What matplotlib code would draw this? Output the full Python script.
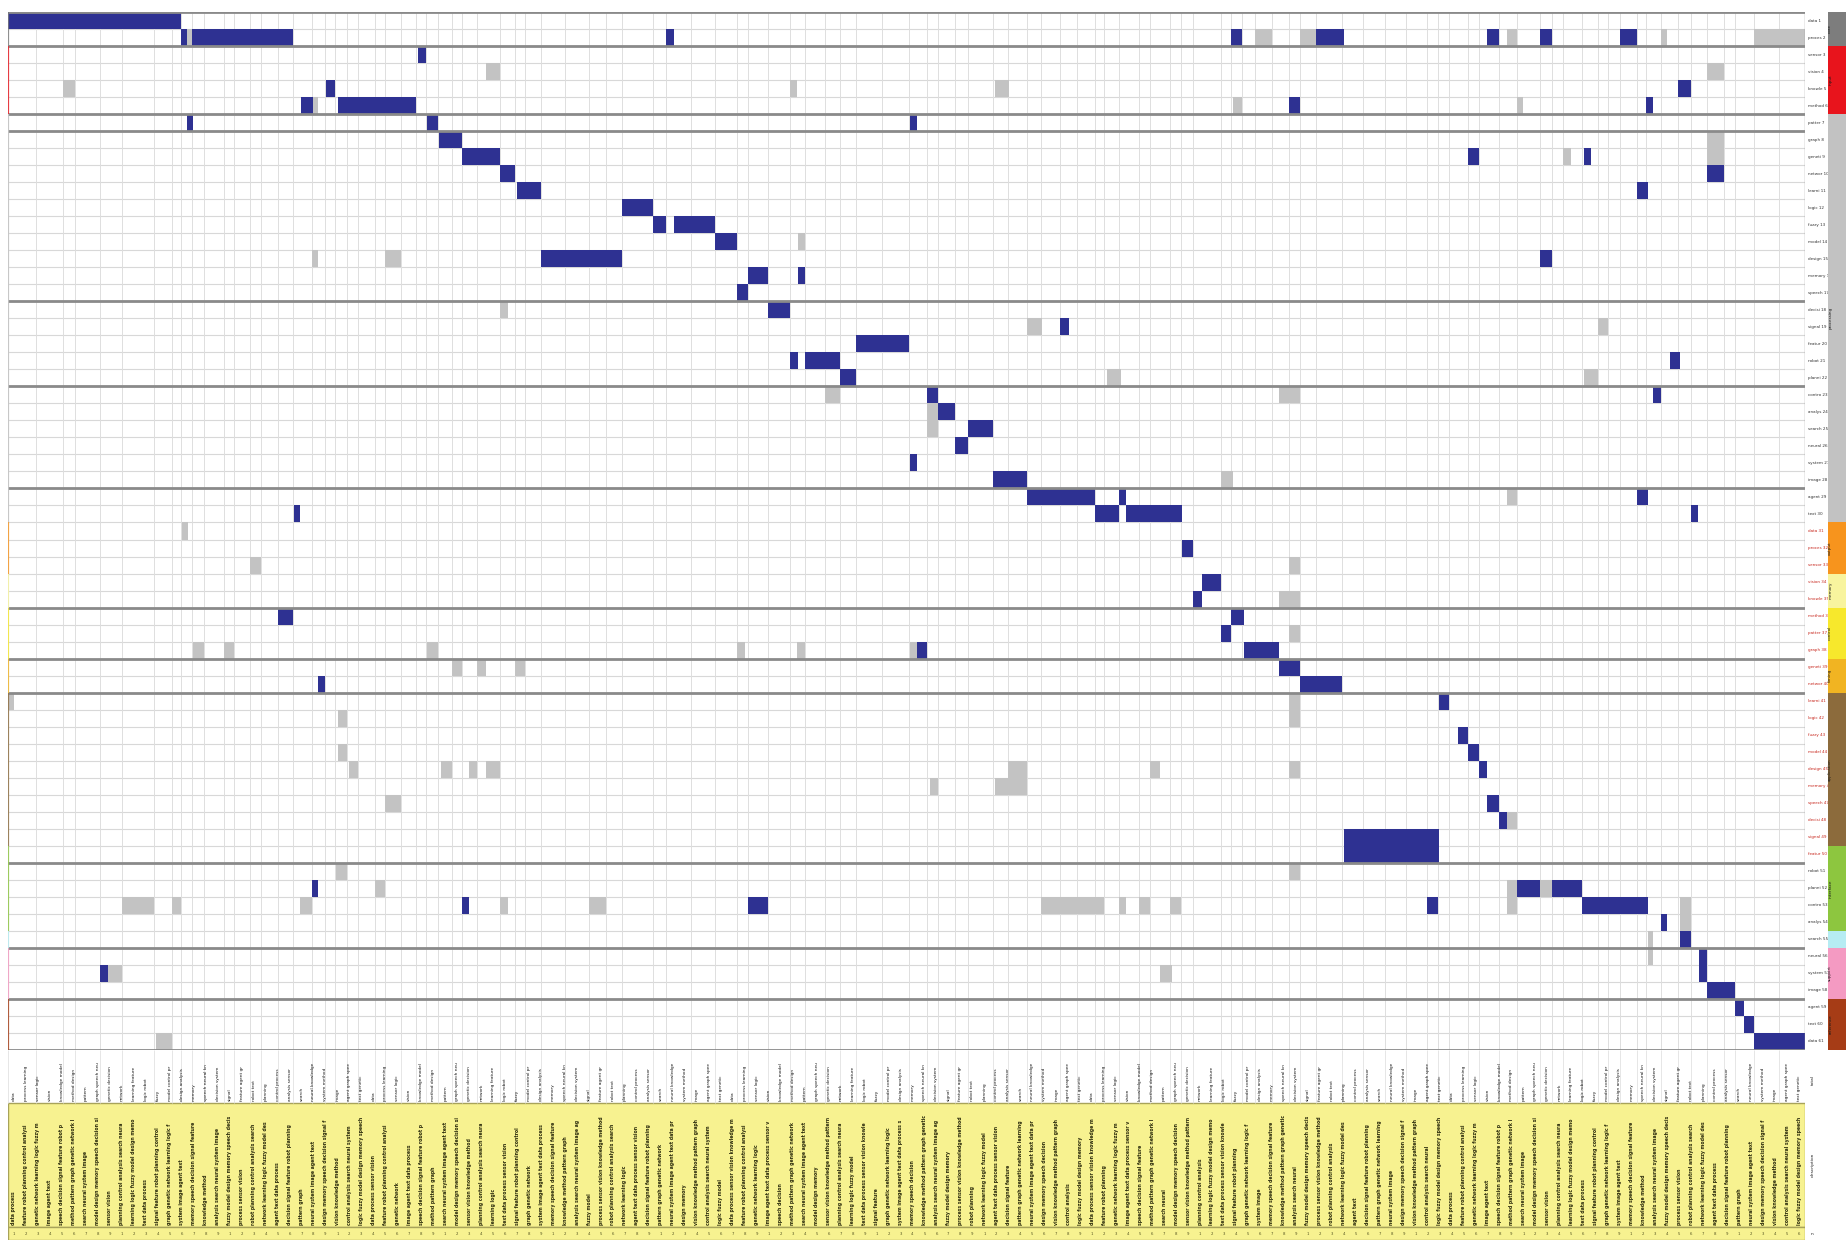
import matplotlib
matplotlib.use('Agg')
import matplotlib.pyplot as plt
from matplotlib.patches import Rectangle

W, H = 1846, 1240
N_ROWS = 61
N_UNITS = 250

# (row, start, stop) in column units
BLUE_CELLS = [
    (0, 0.0, 24.1),
    (1, 24.1, 24.9), (1, 25.6, 39.6), (1, 91.6, 92.6), (1, 170.2, 171.7), (1, 182.0, 185.8),
    (1, 205.8, 207.4), (1, 213.1, 214.8), (1, 224.3, 226.6),
    (2, 57.0, 58.2),
    (4, 44.2, 45.5), (4, 232.4, 234.1),
    (5, 40.8, 42.4), (5, 45.9, 56.8), (5, 178.2, 179.7), (5, 227.9, 228.9),
    (6, 24.9, 25.7), (6, 58.3, 59.8), (6, 125.5, 126.5),
    (7, 60.0, 63.1),
    (8, 63.2, 68.5), (8, 203.1, 204.6), (8, 219.2, 220.2),
    (9, 68.5, 70.6), (9, 236.4, 238.7),
    (10, 70.8, 74.2), (10, 226.6, 228.2),
    (11, 85.4, 89.8),
    (12, 89.8, 91.6), (12, 92.6, 98.3),
    (13, 98.3, 101.4),
    (14, 74.2, 85.4), (14, 213.1, 214.8),
    (15, 103.0, 105.7), (15, 109.9, 110.9),
    (16, 101.4, 103.0),
    (17, 105.8, 108.8),
    (18, 146.3, 147.6),
    (19, 118.0, 125.3),
    (20, 108.8, 109.9), (20, 110.9, 115.7), (20, 231.2, 232.6),
    (21, 115.7, 118.0),
    (22, 127.9, 129.4), (22, 228.9, 229.9),
    (23, 129.4, 131.7),
    (24, 133.5, 137.0),
    (25, 131.7, 133.5),
    (26, 125.5, 126.5),
    (27, 137.0, 141.7),
    (28, 141.7, 151.2), (28, 154.5, 155.6), (28, 226.6, 228.2),
    (29, 39.8, 40.6), (29, 151.2, 154.5), (29, 155.6, 163.3), (29, 234.1, 235.1),
    (31, 163.3, 164.8),
    (33, 166.1, 168.7),
    (34, 164.8, 166.1),
    (35, 37.5, 39.6), (35, 170.2, 171.9),
    (36, 168.7, 170.2),
    (37, 126.5, 127.9), (37, 171.9, 176.8),
    (38, 176.8, 179.7),
    (39, 43.1, 44.1), (39, 179.7, 185.6),
    (40, 199.1, 200.5),
    (42, 201.7, 203.1),
    (43, 203.1, 204.6),
    (44, 204.6, 205.8),
    (46, 205.8, 207.4),
    (47, 207.4, 208.6),
    (48, 185.8, 199.1), (49, 185.8, 199.1),
    (51, 42.3, 43.1), (51, 209.9, 213.1), (51, 214.8, 219.0),
    (52, 63.2, 64.2), (52, 103.0, 105.8), (52, 197.4, 198.9), (52, 219.0, 228.1),
    (53, 229.9, 230.8),
    (54, 232.6, 234.1),
    (55, 235.3, 236.3),
    (56, 12.8, 13.9), (56, 235.3, 236.3),
    (57, 236.3, 240.3),
    (58, 240.3, 241.5),
    (59, 241.5, 242.9),
    (60, 242.9, 250.0),
]

GRAY_CELLS = [
    (1, 24.9, 25.6), (1, 173.5, 175.8), (1, 179.7, 182.0), (1, 208.6, 209.9),
    (1, 229.9, 230.8), (1, 242.9, 250.0),
    (3, 66.5, 68.5), (3, 236.4, 238.7),
    (4, 7.7, 9.3), (4, 108.8, 109.8), (4, 137.3, 139.3),
    (5, 42.4, 43.1), (5, 170.4, 171.7), (5, 209.9, 210.8),
    (7, 236.4, 238.7),
    (8, 216.4, 217.4), (8, 236.4, 238.7),
    (13, 109.9, 110.9),
    (14, 42.3, 43.1), (14, 52.4, 54.7),
    (17, 68.5, 69.5),
    (18, 141.7, 143.8), (18, 221.2, 222.6),
    (21, 152.9, 154.8), (21, 219.2, 221.2),
    (22, 113.7, 115.7), (22, 176.8, 179.7),
    (23, 127.9, 129.4), (24, 127.9, 129.4),
    (27, 168.7, 170.4),
    (28, 208.6, 209.9),
    (30, 24.2, 25.1),
    (32, 33.7, 35.2), (32, 178.2, 179.7),
    (34, 176.8, 179.7),
    (36, 178.2, 179.7),
    (37, 25.7, 27.2), (37, 30.0, 31.5), (37, 58.3, 59.8), (37, 101.4, 102.6),
    (37, 109.8, 110.9), (37, 125.5, 126.5),
    (38, 61.8, 63.1), (38, 65.2, 66.5), (38, 70.6, 71.9),
    (40, 0.0, 0.8), (40, 178.2, 179.7),
    (41, 45.9, 47.2), (41, 178.2, 179.7),
    (43, 45.9, 47.2),
    (44, 47.5, 48.7), (44, 60.3, 61.8), (44, 64.2, 65.2), (44, 66.5, 68.5),
    (44, 139.1, 141.7), (44, 158.9, 160.2), (44, 178.2, 179.7),
    (45, 128.3, 129.4), (45, 137.3, 141.7),
    (46, 52.4, 54.7),
    (47, 208.6, 209.9),
    (50, 45.7, 47.2), (50, 178.2, 179.7),
    (51, 51.0, 52.4), (51, 208.6, 209.9), (51, 213.1, 214.8),
    (52, 15.9, 20.3), (52, 22.8, 24.1), (52, 40.6, 42.3), (52, 68.5, 69.5),
    (52, 80.8, 83.2), (52, 143.7, 152.5), (52, 154.5, 155.6), (52, 157.4, 158.9),
    (52, 161.7, 163.2), (52, 208.6, 209.9), (52, 232.6, 234.1),
    (53, 232.6, 234.1),
    (54, 228.1, 228.9), (55, 228.1, 228.9),
    (56, 13.9, 15.9), (56, 160.2, 161.9),
    (60, 20.6, 22.8),
]

# row indices where a new block of rows starts
GROUP_BREAKS = [0, 2, 6, 7, 17, 22, 28, 35, 38, 40, 50, 55, 58, 61]

# category colour bands on the right edge
BAND_START = [0, 2, 6, 30, 33, 35, 38, 40, 49, 54, 55, 58]
BAND_END = [2, 6, 30, 33, 35, 38, 40, 49, 54, 55, 58, 61]
BAND_COLORS = ['#7d7d7d', '#e8141c', '#c2c2c2', '#f7941d', '#f8f49e', '#f7e82c',
               '#f1b422', '#8c6b3c', '#8dc63f', '#b6ecf3', '#f49ac2', '#a63c16']
BAND_NAMES = ['core', 'input', 'processing', 'output', 'memory', 'control', 'timing',
              'application', 'interface', 'misc', 'support', 'reference']

WORDS = ['data', 'model', 'system', 'network', 'control', 'method', 'signal', 'process',
         'design', 'image', 'learning', 'analysis', 'pattern', 'feature', 'sensor',
         'memory', 'agent', 'logic', 'search', 'graph', 'robot', 'vision', 'speech',
         'text', 'fuzzy', 'neural', 'genetic', 'planning', 'knowledge', 'decision']

ROW_LABELS = [f'{WORDS[(r * 7) % len(WORDS)][:6]} {r + 1}' for r in range(N_ROWS)]
N_COLS = 150

BLUE = '#2e3192'
GRAY = '#c3c3c3'

fig = plt.figure(figsize=(W / 100, H / 100), dpi=100)
fig.patch.set_facecolor('white')

# --- main matrix ---
gx0, gx1, gy0, gy1 = 8, 1805, 12, 1050
ax = fig.add_axes([gx0 / W, 1 - gy1 / H, (gx1 - gx0) / W, (gy1 - gy0) / H])
ax.set_xlim(0, N_UNITS)
ax.set_ylim(N_ROWS, 0)
ax.axis('off')

# vertical grid lines follow the cell edges, wide gaps filled in
edges = sorted({round(e, 1) for _, a, b in BLUE_CELLS + GRAY_CELLS for e in (a, b)} | {0.0, 250.0})
merged = []
for e in edges:
    if not merged or e - merged[-1] > 1.3:
        merged.append(e)
vlines = []
for a, b in zip(merged[:-1], merged[1:]):
    vlines.append(a)
    n = max(1, round((b - a) / 3.2))
    vlines.extend(a + k * (b - a) / n for k in range(1, n))
vlines.append(merged[-1])

ax.hlines(range(N_ROWS + 1), 0, N_UNITS, color='#d8d8d8', lw=0.8, zorder=1)
ax.vlines(vlines, 0, N_ROWS, color='#dedede', lw=0.7, zorder=1)

for cells, color in ((GRAY_CELLS, GRAY), (BLUE_CELLS, BLUE)):
    for row, x0, x1 in cells:
        ax.broken_barh([(x0, x1 - x0)], (row, 1), facecolors=color, linewidth=0, zorder=3)

ax.hlines(GROUP_BREAKS, 0, N_UNITS, color='#8a8a8a', lw=2.0, zorder=4)
ax.vlines(N_UNITS, 0, N_ROWS, color='#9a9a9a', lw=1.0, zorder=4)
for s, e, c in zip(BAND_START, BAND_END, BAND_COLORS):
    ax.vlines(0, s, e, color=c, lw=1.6, zorder=4, alpha=0.8)

for r, lab in enumerate(ROW_LABELS):
    col = '#c8281e' if 30 <= r < 50 else '#333333'
    ax.text(N_UNITS + 0.4, r + 0.5, lab, fontsize=3.0, color=col, va='center', ha='left',
            clip_on=False)

# --- category band ---
axb = fig.add_axes([1828 / W, 1 - gy1 / H, 18 / W, (gy1 - gy0) / H])
axb.set_xlim(0, 1)
axb.set_ylim(N_ROWS, 0)
axb.axis('off')
for s, e, c, name in zip(BAND_START, BAND_END, BAND_COLORS, BAND_NAMES):
    axb.add_patch(Rectangle((0, s), 1, e - s, facecolor=c, edgecolor='none'))
    if e - s >= 2:
        axb.text(0.12, (s + e) / 2, name, rotation=90, fontsize=3.0, color='#1a1a1a',
                 ha='center', va='center')

# --- column headers and descriptions ---
axl = fig.add_axes([gx0 / W, 0, (gx1 - gx0) / W, (H - gy1) / H])
axl.set_xlim(0, N_UNITS)
axl.set_ylim(H - gy1, 0)
axl.axis('off')
axl.vlines(vlines, 0, 53, color='#e2e2e2', lw=0.6)
axl.add_patch(Rectangle((0, 53), N_UNITS, 124, facecolor='#f7f290', edgecolor='#a8a35a', lw=1.0))
axl.add_patch(Rectangle((0, 177), N_UNITS, 13, facecolor='#f7f290', edgecolor='#a8a35a', lw=1.0))

step = N_UNITS / N_COLS
for k in range(N_COLS):
    xc = (k + 0.5) * step
    nw = 1 + (k * 5) % 3
    head = ' '.join(WORDS[(k * 7 + j * 3) % len(WORDS)] for j in range(nw))
    axl.text(xc, 51, head[:16], rotation=90, fontsize=3.1, color='#161616',
             ha='center', va='bottom')

    nd = 2 + (k * 11) % 8
    desc = ' '.join(WORDS[(k * 13 + j * 7) % len(WORDS)] for j in range(nd))
    axl.text(xc, 175, desc[:38], rotation=90, fontsize=3.3, color='#2c2c0c',
             ha='center', va='bottom', fontweight='bold')
    axl.text(xc, 184, str(k % 9 + 1), fontsize=2.8, color='#555522', ha='center', va='center')

axl.text(N_UNITS + 0.8, 30, 'total', rotation=90, fontsize=3.2, color='#222222',
         ha='left', va='center', clip_on=False)
axl.text(N_UNITS + 0.8, 115, 'description', rotation=90, fontsize=3.2, color='#222222',
         ha='left', va='center', clip_on=False)
axl.text(N_UNITS + 0.8, 184, 'n', fontsize=3.2, color='#222222',
         ha='left', va='center', clip_on=False)

fig.savefig('out.png', dpi=100)
plt.close(fig)
